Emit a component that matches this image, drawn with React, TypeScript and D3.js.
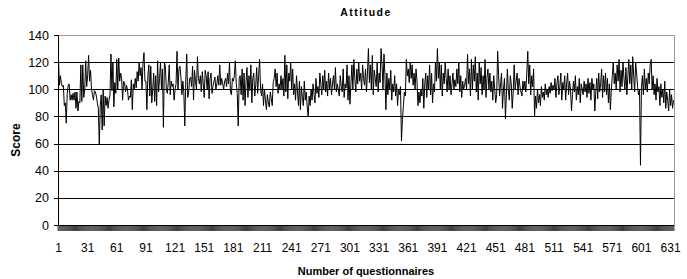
import * as d3 from "d3";

const W = 687;
const H = 279;

const title = "Attitude";
const yTitle = "Score";
const xTitle = "Number of questionnaires";
const yTicks = [0, 20, 40, 60, 80, 100, 120, 140];
const xLabelStep = 30;

// one score per questionnaire (~30 per line)
const scores = [
  122, 103, 110, 104, 102, 103, 88, 90, 75, 97, 103, 104, 92, 96, 92, 97, 92, 98, 86, 98, 84, 91, 90, 118, 91, 118, 94, 100, 121, 102,
  110, 125, 106, 114, 100, 96, 92, 99, 98, 95, 90, 86, 59, 88, 96, 70, 100, 73, 95, 88, 94, 86, 92, 96, 126, 99, 120, 87, 105, 97,
  122, 100, 123, 106, 112, 108, 92, 106, 105, 98, 103, 100, 92, 95, 94, 107, 85, 104, 100, 108, 101, 113, 106, 120, 110, 116, 100, 120, 127, 106,
  106, 85, 110, 118, 95, 117, 90, 100, 112, 91, 110, 88, 121, 98, 108, 120, 100, 115, 72, 120, 117, 100, 97, 105, 118, 96, 106, 102, 104, 92,
  100, 104, 128, 100, 115, 117, 109, 96, 106, 98, 73, 106, 126, 94, 98, 108, 109, 102, 117, 92, 114, 106, 100, 124, 108, 104, 110, 98, 113, 104,
  94, 114, 110, 100, 113, 93, 108, 112, 97, 102, 106, 109, 100, 104, 110, 103, 118, 103, 108, 104, 100, 106, 108, 102, 112, 104, 120, 98, 96, 108,
  106, 110, 121, 104, 97, 73, 108, 110, 96, 115, 92, 112, 88, 105, 116, 94, 110, 99, 118, 90, 108, 112, 95, 103, 116, 97, 110, 122, 100, 95,
  104, 88, 100, 92, 85, 96, 90, 87, 98, 93, 88, 105, 108, 115, 102, 112, 97, 104, 100, 110, 100, 108, 95, 125, 98, 118, 93, 112, 106, 120,
  100, 115, 96, 104, 92, 110, 98, 88, 106, 85, 102, 94, 88, 106, 92, 98, 87, 80, 95, 88, 100, 92, 104, 96, 90, 108, 97, 102, 94, 112,
  104, 96, 110, 100, 114, 98, 106, 95, 112, 100, 108, 96, 104, 110, 100, 116, 98, 104, 100, 95, 110, 102, 98, 115, 94, 104, 101, 118, 92, 110,
  89, 104, 118, 100, 122, 108, 98, 115, 104, 120, 106, 112, 100, 118, 108, 103, 115, 98, 112, 130, 105, 118, 100, 125, 96, 114, 108, 102, 120, 98,
  112, 105, 130, 118, 100, 126, 110, 85, 112, 96, 108, 100, 114, 92, 104, 98, 110, 95, 104, 88, 100, 96, 102, 62, 78, 88, 98, 95, 122, 110,
  115, 105, 120, 108, 118, 103, 112, 100, 115, 106, 88, 98, 90, 100, 95, 108, 86, 104, 112, 94, 110, 100, 118, 96, 112, 90, 104, 98, 120, 106,
  130, 108, 120, 100, 118, 95, 112, 104, 120, 108, 98, 115, 100, 110, 96, 104, 112, 100, 107, 102, 115, 104, 120, 98, 110, 94, 106, 100, 103, 108,
  100, 126, 104, 115, 95, 122, 100, 118, 106, 124, 98, 112, 92, 120, 104, 116, 96, 110, 100, 122, 94, 108, 115, 100, 112, 98, 106, 92, 110, 100,
  90, 96, 128, 110, 95, 104, 112, 86, 100, 108, 78, 96, 115, 100, 92, 110, 104, 86, 98, 118, 100, 106, 112, 96, 108, 102, 98, 95, 106, 100,
  106, 98, 112, 128, 104, 118, 96, 110, 102, 115, 80, 95, 86, 100, 90, 96, 88, 102, 94, 98, 92, 104, 96, 100, 94, 102, 97, 105, 99, 103,
  100, 108, 94, 104, 110, 96, 102, 112, 92, 105, 100, 110, 92, 104, 112, 96, 106, 100, 84, 96, 106, 98, 110, 92, 102, 96, 108, 90, 104, 100,
  96, 106, 98, 104, 94, 108, 97, 105, 92, 108, 100, 104, 84, 98, 108, 93, 112, 98, 104, 115, 94, 110, 98, 112, 96, 108, 90, 104, 85, 100,
  110, 120, 104, 112, 100, 118, 106, 122, 98, 114, 102, 120, 108, 100, 116, 96, 110, 122, 104, 118, 100, 124, 110, 98, 120, 112, 102, 96, 100, 44,
  102, 110, 96, 115, 100, 108, 98, 112, 104, 118, 122, 100, 110, 96, 104, 92, 108, 98, 102, 88, 104, 94, 100, 90, 106, 86, 98, 92, 84, 100,
  88, 96, 86, 92,
];

const categories = scores.map((_, i) => i + 1);
const xLabels = categories.filter((c) => (c - 1) % xLabelStep === 0);

const plot = { left: 58, right: 674, top: 35, bottom: 225 };
const font = "'Liberation Sans', Arial, sans-serif";

export default function App() {
  const x = d3.scaleBand<number>().domain(categories).range([plot.left, plot.right]);
  const y = d3.scaleLinear().domain([0, 140]).range([plot.bottom, plot.top]);
  const cx = (c: number) => (x(c) ?? 0) + x.bandwidth() / 2;

  const line = d3
    .line<number>()
    .x((_, i) => cx(categories[i]))
    .y((d) => y(d));

  // a tick at every category boundary, as Excel does
  const tickPath = categories
    .map((c) => `M${(x(c) ?? 0).toFixed(2)},${plot.bottom}V${plot.bottom + 6}`)
    .concat([`M${plot.right},${plot.bottom}V${plot.bottom + 6}`])
    .join("");

  return (
    <svg width={W} height={H} style={{ position: "absolute", left: 0, top: 0, background: "#fff" }} fontFamily={font}>
      <text x={(plot.left + plot.right) / 2} y={16} textAnchor="middle" fontSize={10.5} fontWeight="bold" letterSpacing={1.5}>
        {title}
      </text>

      {/* plot frame */}
      <line x1={plot.left} x2={plot.right} y1={plot.top + 0.5} y2={plot.top + 0.5} stroke="#9a9a9a" />
      <line x1={plot.right + 0.5} x2={plot.right + 0.5} y1={plot.top} y2={plot.bottom} stroke="#9a9a9a" />

      {yTicks.map((t) => (
        <g key={t}>
          {t > 0 && t < 140 ? (
            <line x1={plot.left} x2={plot.right} y1={Math.round(y(t)) + 0.5} y2={Math.round(y(t)) + 0.5} stroke="#000" />
          ) : null}
          <line x1={plot.left - 4} x2={plot.left} y1={Math.round(y(t)) + 0.5} y2={Math.round(y(t)) + 0.5} stroke="#000" />
          <text x={plot.left - 9} y={y(t)} dy="0.36em" textAnchor="end" fontSize={12.5}>
            {t}
          </text>
        </g>
      ))}

      <path d={line(scores) ?? ""} fill="none" stroke="#000" strokeWidth={1} />

      {/* axes */}
      <line x1={plot.left + 0.5} x2={plot.left + 0.5} y1={plot.top} y2={plot.bottom} stroke="#000" />
      <line x1={plot.left} x2={plot.right} y1={plot.bottom + 0.5} y2={plot.bottom + 0.5} stroke="#000" />
      <path d={tickPath} stroke="#000" strokeWidth={0.75} />

      {xLabels.map((c) => (
        <text key={c} x={cx(c)} y={252} textAnchor="middle" fontSize={12}>
          {c}
        </text>
      ))}

      <text x={366} y={275} textAnchor="middle" fontSize={11} fontWeight="bold">
        {xTitle}
      </text>
      <text transform="translate(20,140) rotate(-90)" textAnchor="middle" fontSize={12} fontWeight="bold">
        {yTitle}
      </text>
    </svg>
  );
}
